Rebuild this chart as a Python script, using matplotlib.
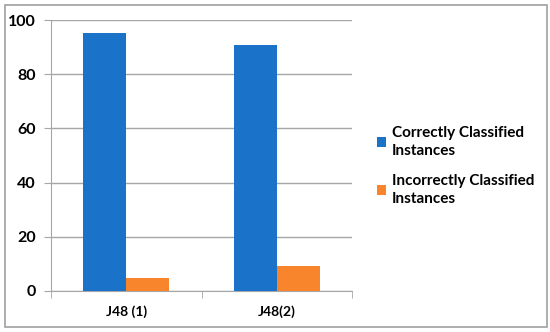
import numpy as np
import matplotlib.pyplot as plt
from matplotlib.patches import Rectangle

# Data
categories = ["J48 (1)", "J48(2)"]
correct = [95.2, 90.9]
incorrect = [4.8, 9.2]
series_names = ["Correctly Classified\nInstances", "Incorrectly Classified\nInstances"]
colors = ["#1a72c9", "#f8852b"]

plt.rcParams['font.family'] = ['Lato', 'DejaVu Sans']
plt.rcParams['font.weight'] = 'bold'

fig = plt.figure(figsize=(5.5, 3.32), dpi=100)
ax = fig.add_axes([51/550, 1 - 291/332, 301/550, 271/332])

x = np.arange(len(categories))
w = 0.286
ax.bar(x - w/2, correct, w, color=colors[0], label=series_names[0], zorder=3)
ax.bar(x + w/2, incorrect, w, color=colors[1], label=series_names[1], zorder=3)

ax.set_xlim(-0.5, len(categories) - 0.5)
ax.set_ylim(0, 100)
ax.set_yticks(range(0, 101, 20))
ax.yaxis.grid(True, color="#a6a6a6", linewidth=1, zorder=0)
ax.set_xticks(x)
ax.set_xticklabels(categories, fontsize=10, fontweight='bold')
ax.set_xticks([-0.5, 0.5, 1.5], minor=True)
ax.tick_params(axis='x', which='major', length=0, pad=10)
ax.tick_params(axis='x', which='minor', length=5, color="#a6a6a6")
ax.tick_params(axis='y', length=5, color="#a6a6a6", labelsize=11.5, pad=6)
for lbl in ax.get_yticklabels():
    lbl.set_fontweight('bold')

for s in ['top', 'right']:
    ax.spines[s].set_visible(False)
for s in ['left', 'bottom']:
    ax.spines[s].set_color("#a6a6a6")

leg = fig.legend(loc='center left', bbox_to_anchor=(363/550, 1 - 166/332),
                 frameon=False, fontsize=11, handlelength=0.6, handleheight=0.6,
                 handletextpad=0.4, labelspacing=1.05)
for t in leg.get_texts():
    t.set_fontweight('bold')
    t.set_linespacing(1.4)

# outer chart border
fig.patches.append(Rectangle((5/550, 5/332), 542/550, 322/332, transform=fig.transFigure,
                             fill=False, edgecolor="#a0a0a0", linewidth=1.2))

fig.savefig("out.png", dpi=100)
